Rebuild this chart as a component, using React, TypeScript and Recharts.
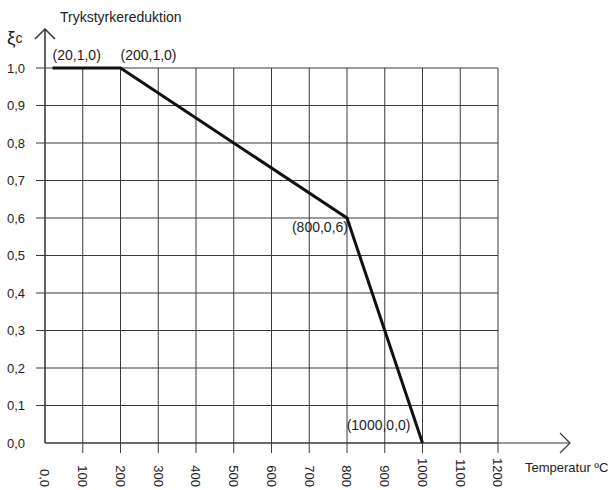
import { LineChart, Line, XAxis, YAxis, CartesianGrid, ReferenceLine } from 'recharts';

const temps = [20, 200, 800, 1000];
const reduction = [1.0, 1.0, 0.6, 0.0];
const xTicks = [0, 100, 200, 300, 400, 500, 600, 700, 800, 900, 1000, 1100, 1200];
const xTickLabels = ['0,0', '100', '200', '300', '400', '500', '600', '700', '800', '900', '1000', '1100', '1200'];
const yTicks = [0, 0.1, 0.2, 0.3, 0.4, 0.5, 0.6, 0.7, 0.8, 0.9, 1.0];

const data = temps.map((t, i) => ({ t, xi: reduction[i] }));

const FONT = "'Liberation Sans', Arial, sans-serif";
const INK = '#222';
const GRID = '#3a3a3a';

const PLOT_TOP = 68;
const Y_AXIS_W = 45;

const fmt = (v: number) => v.toFixed(1).replace('.', ',');

// where each point label sits relative to its point
const labelPlacement = [
  { dx: 0, dy: -8, anchor: 'start' },
  { dx: 0, dy: -8, anchor: 'start' },
  { dx: 1, dy: 14, anchor: 'end' },
  { dx: -12, dy: -13, anchor: 'end' },
];

const XTick = (props: any) => {
  const { x, y, payload, index } = props;
  const label = xTickLabels[xTicks.indexOf(payload.value)] ?? String(payload.value);
  return (
    <g transform={`translate(${x},${y})`}>
      {index !== 0 && <line x1={0} y1={-12} x2={0} y2={-2} stroke={GRID} />}
      <text transform="rotate(90)" x={32} y={0} dy="0.35em" textAnchor="end" fontFamily={FONT} fontSize={13} fill={INK}>
        {label}
      </text>
    </g>
  );
};

const YTick = (props: any) => {
  const { x, y, payload } = props;
  return (
    <g>
      {payload.value !== 0 && <line x1={x + 2} y1={y} x2={x + 11} y2={y} stroke={GRID} />}
      <text x={x - 9} y={y} dy="0.38em" textAnchor="end" fontFamily={FONT} fontSize={13} fill={INK}>
        {fmt(payload.value)}
      </text>
    </g>
  );
};

const PointLabel = (props: any) => {
  const { x, y, index } = props;
  const p = labelPlacement[index];
  return (
    <text x={x + p.dx} y={y + p.dy} textAnchor={p.anchor} fontFamily={FONT} fontSize={14} fill={INK}>
      {`(${temps[index]},${fmt(reduction[index])})`}
    </text>
  );
};

// x axis: extends past the plot with an open arrow head
const XAxisArrow = (props: any) => {
  const { x1, x2, y1 } = props;
  const left = Math.min(x1, x2);
  const right = Math.max(x1, x2) + 72;
  return (
    <g stroke={GRID} strokeWidth={1.2} fill="none">
      <line x1={left} y1={y1} x2={right} y2={y1} />
      <polyline points={`${right - 10},${y1 - 10} ${right},${y1} ${right - 10},${y1 + 10}`} />
    </g>
  );
};

const arrowTop = PLOT_TOP - 39;

export default function App() {
  return (
    <div style={{ position: 'absolute', left: 0, top: 0, width: 615, height: 490, background: '#fff' }}>
      <LineChart width={615} height={490} data={data} margin={{ top: PLOT_TOP, right: 117, bottom: 0, left: 0 }}>
        <CartesianGrid stroke={GRID} strokeWidth={1} />
        <XAxis
          dataKey="t"
          type="number"
          domain={[0, 1200]}
          ticks={xTicks}
          interval={0}
          height={47}
          axisLine={false}
          tickLine={false}
          tickSize={10}
          tick={<XTick />}
        />
        <YAxis
          type="number"
          domain={[0, 1]}
          ticks={yTicks}
          interval={0}
          width={Y_AXIS_W}
          axisLine={{ stroke: GRID, strokeWidth: 1.2 }}
          tickLine={false}
          tickSize={9}
          tick={<YTick />}
        />
        <ReferenceLine y={0} stroke={GRID} shape={<XAxisArrow />} />
        <Line
          dataKey="xi"
          stroke="#111"
          strokeWidth={3}
          dot={false}
          isAnimationActive={false}
          label={<PointLabel />}
        />
        {/* y axis continues above the plot with an open arrow head */}
        <path
          d={`M${Y_AXIS_W},${PLOT_TOP} L${Y_AXIS_W},${arrowTop} M${Y_AXIS_W - 10},${arrowTop + 10} L${Y_AXIS_W},${arrowTop} L${Y_AXIS_W + 10},${arrowTop + 10}`}
          stroke="#333333"
          strokeWidth={1.5}
          fill="none"
        />
        <text x={60} y={22} fontFamily={FONT} fontSize={14} fill={INK}>Trykstyrkereduktion</text>
        <text x={7} y={44} fontFamily={FONT} fill={INK}>
          <tspan fontSize={19}>ξ</tspan>
          <tspan fontSize={14} dy={-1}>c</tspan>
        </text>
        <text x={525} y={472} fontFamily={FONT} fontSize={13} fill={INK}>Temperatur ºC</text>
      </LineChart>
    </div>
  );
}
